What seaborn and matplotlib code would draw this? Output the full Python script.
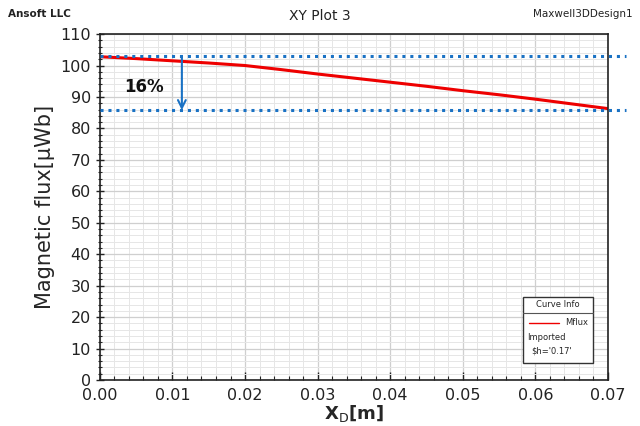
import numpy as np
import pandas as pd
import seaborn as sns
import matplotlib.pyplot as plt
from matplotlib.ticker import MultipleLocator
from matplotlib.patches import Rectangle
from matplotlib.lines import Line2D

# --- DATA ---
x_pos = [0.00, 0.005, 0.01, 0.015, 0.02, 0.025, 0.03, 0.035, 0.04, 0.045, 0.05, 0.055, 0.06, 0.065, 0.07]
mflux = [102.8, 102.2, 101.5, 100.8, 100.0, 98.7, 97.3, 96.0, 94.7, 93.4, 92.0, 90.7, 89.3, 87.8, 86.3]
level_top = 103.0
level_bottom = 85.8
arrow_x = 0.0113
drop_label = "16%"

df = pd.DataFrame({"x": x_pos, "Mflux": mflux})

# --- STYLE ---
sns.set_style("white")
plt.rcParams['font.family'] = ['DejaVu Sans']

fig = plt.figure(figsize=(6.4, 4.26), dpi=100)
ax = fig.add_axes([0.156, 0.108, 0.794, 0.812])

sns.lineplot(data=df, x="x", y="Mflux", color="#ee0000", linewidth=2.2, ax=ax)

# reference levels and drop arrow
trans = ax.get_yaxis_transform()
for lv in (level_top, level_bottom):
    ax.plot([0, 1.035], [lv, lv], transform=trans, color="#1a72c4",
            linestyle=(0, (1, 1.6)), linewidth=2.2, clip_on=False, zorder=3)
ax.annotate("", xy=(arrow_x, level_bottom), xytext=(arrow_x, level_top),
            arrowprops=dict(arrowstyle="->", color="#1a72c4", lw=1.5,
                            mutation_scale=14, shrinkA=0, shrinkB=0))
ax.text(0.0034, 93.2, drop_label, fontsize=12, fontweight="bold",
        color="#111111", ha="left", va="center")

# axes
ax.set_xlim(0, 0.07)
ax.set_ylim(0, 110)
ax.xaxis.set_major_locator(MultipleLocator(0.01))
ax.xaxis.set_minor_locator(MultipleLocator(0.002))
ax.yaxis.set_major_locator(MultipleLocator(10))
ax.yaxis.set_minor_locator(MultipleLocator(2))
ax.xaxis.set_major_formatter(plt.FormatStrFormatter("%.2f"))
ax.grid(which="major", color="#cfcfcf", linewidth=0.9)
ax.grid(which="minor", color="#e6e6e6", linewidth=0.7)
ax.set_axisbelow(True)
ax.tick_params(axis="both", which="major", labelsize=11.5, colors="#222222",
               length=6, width=1)
ax.tick_params(axis="y", which="both", direction="inout", left=True)
ax.tick_params(axis="x", which="both", direction="in", bottom=True)
ax.tick_params(axis="both", which="minor", length=3, width=0.8)
ax.tick_params(axis="x", pad=6)
for sp in ax.spines.values():
    sp.set_color("#222222")
    sp.set_linewidth(1.2)

ax.set_xlabel("X$_\\mathrm{D}$[m]", fontsize=13, fontweight="bold", labelpad=0)
ax.set_ylabel("Magnetic flux[\u03bcWb]", fontsize=15, labelpad=4)

# header texts
fig.text(0.012, 0.968, "Ansoft LLC", fontsize=7.5, fontweight="bold", color="#222222",
         ha="left", va="center")
fig.text(0.5, 0.962, "XY Plot 3", fontsize=10, color="#222222", ha="center", va="center")
fig.text(0.988, 0.968, "Maxwell3DDesign1", fontsize=7.5, color="#222222",
         ha="right", va="center")

# curve info box
bx, by, bw, bh = 0.833, 0.05, 0.138, 0.19
ax.add_patch(Rectangle((bx, by), bw, bh, transform=ax.transAxes, facecolor="white",
                       edgecolor="#333333", linewidth=1.0, zorder=5))
ax.plot([bx, bx + bw], [by + bh - 0.045] * 2, transform=ax.transAxes,
        color="#555555", linewidth=0.8, zorder=6)
ax.text(bx + bw / 2, by + bh - 0.022, "Curve Info", transform=ax.transAxes,
        fontsize=6, ha="center", va="center", zorder=6)
ax.add_line(Line2D([bx + 0.012, bx + 0.07], [by + 0.115] * 2, transform=ax.transAxes,
                   color="#ee0000", linewidth=1.0, zorder=6))
ax.text(bx + bw - 0.01, by + 0.115, "Mflux", transform=ax.transAxes,
        fontsize=6, ha="right", va="center", zorder=6)
ax.text(bx + 0.008, by + 0.072, "Imported", transform=ax.transAxes,
        fontsize=6, ha="left", va="center", zorder=6)
ax.text(bx + 0.015, by + 0.035, "$h='0.17'", transform=ax.transAxes,
        fontsize=6, ha="left", va="center", zorder=6)

fig.savefig("out.png", dpi=100)
